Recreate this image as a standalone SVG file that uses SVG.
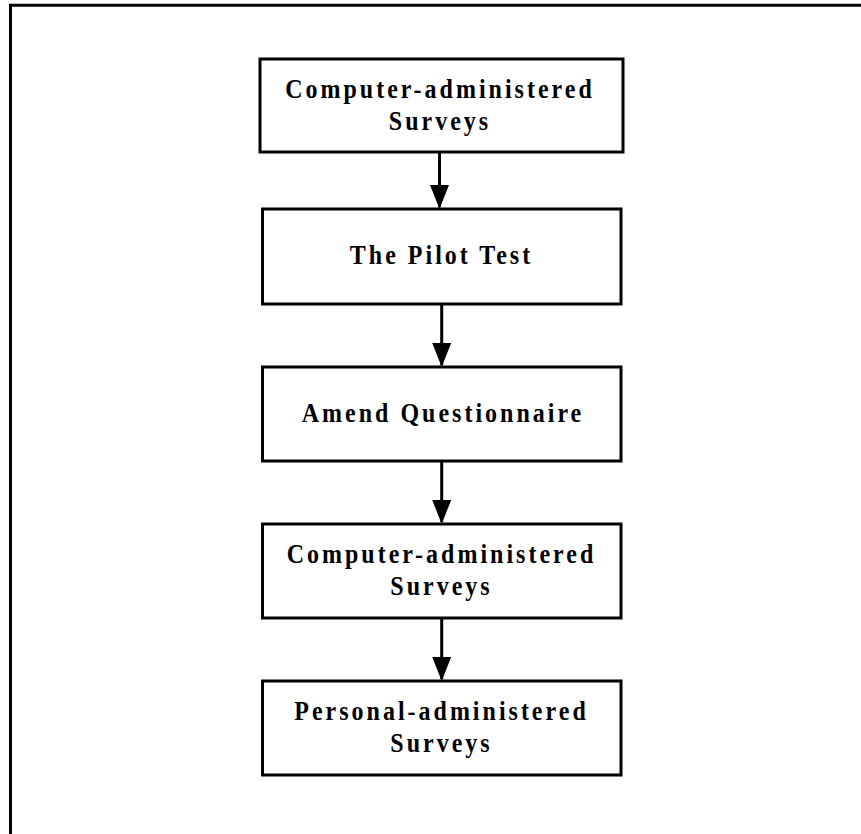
<svg xmlns="http://www.w3.org/2000/svg" width="861" height="834" viewBox="0 0 861 834">
<defs>
<style>
.box{fill:#fff;stroke:#000;stroke-width:3}
.lbl{font-family:"Liberation Serif","Times New Roman",serif;font-weight:bold;font-size:24px;letter-spacing:3px;fill:#000;text-anchor:middle}
.conn{stroke:#000;stroke-width:3;fill:none;marker-end:url(#ah)}
.frame{stroke:#000;stroke-width:3;fill:none}
</style>
<marker id="ah" markerUnits="userSpaceOnUse" markerWidth="26" markerHeight="20" refX="22" refY="9.5" orient="auto" viewBox="0 0 26 20">
<path d="M0,0 L24,9.5 L0,19 z" fill="#000"/>
</marker>
</defs>
<rect width="861" height="834" fill="#fff"/>
<path class="frame" d="M10.5,834 L10.5,5.3 L861,5.3"/>
<g id="connectors">
<line class="conn" x1="439.5" y1="152" x2="439.5" y2="207"/>
<line class="conn" x1="441.7" y1="304" x2="441.7" y2="365"/>
<line class="conn" x1="441.7" y1="461" x2="441.7" y2="522"/>
<line class="conn" x1="441.7" y1="618" x2="441.7" y2="679"/>
</g>
<g id="n1">
<rect class="box" x="260" y="59" width="363" height="93"/>
<text class="lbl" transform="translate(440,98) scale(1,1.1)">Computer-administered</text>
<text class="lbl" transform="translate(440,130) scale(1,1.1)">Surveys</text>
</g>
<g id="n2">
<rect class="box" x="262.5" y="209" width="358.5" height="95"/>
<text class="lbl" transform="translate(441.5,264.3) scale(1,1.1)">The Pilot Test</text>
</g>
<g id="n3">
<rect class="box" x="262.5" y="367" width="358.5" height="94"/>
<text class="lbl" transform="translate(443,421.7) scale(1,1.1)">Amend Questionnaire</text>
</g>
<g id="n4">
<rect class="box" x="262.5" y="524" width="358.5" height="94"/>
<text class="lbl" transform="translate(441.5,563) scale(1,1.1)">Computer-administered</text>
<text class="lbl" transform="translate(441.5,595) scale(1,1.1)">Surveys</text>
</g>
<g id="n5">
<rect class="box" x="262.5" y="681" width="358.5" height="94"/>
<text class="lbl" transform="translate(441.5,720) scale(1,1.1)">Personal-administered</text>
<text class="lbl" transform="translate(441.5,752) scale(1,1.1)">Surveys</text>
</g>
</svg>
